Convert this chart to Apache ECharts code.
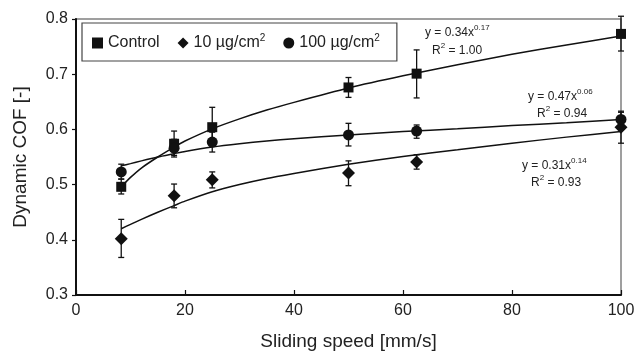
<!DOCTYPE html>
<html>
<head>
<meta charset="utf-8">
<script src="https://cdn.jsdelivr.net/npm/echarts@6/dist/echarts.min.js"></script>
<style>
  html, body { margin: 0; padding: 0; background: #fff; }
  #chart { width: 638px; height: 356px; }
</style>
</head>
<body>
<div id="chart"></div>
<script>
// sliding speeds (mm/s)
var speeds = [8.3, 18, 25, 50, 62.5, 100];

// mean dynamic COF + error bar ends
var controlMean = [0.496, 0.574, 0.604, 0.676, 0.701, 0.773];
var controlLow  = [0.483, 0.553, 0.570, 0.658, 0.657, 0.742];
var controlHigh = [0.510, 0.597, 0.640, 0.694, 0.744, 0.805];

var low10Mean = [0.402, 0.480, 0.509, 0.521, 0.541, 0.604];
var low10Low  = [0.368, 0.458, 0.494, 0.498, 0.528, 0.575];
var low10High = [0.437, 0.501, 0.523, 0.543, 0.554, 0.633];

var high100Mean = [0.523, 0.566, 0.577, 0.590, 0.597, 0.618];
var high100Low  = [0.510, 0.550, 0.559, 0.570, 0.584, 0.605];
var high100High = [0.537, 0.582, 0.595, 0.611, 0.608, 0.631];

// power-law trend curves
var trendX       = [8.3, 10, 12, 15, 18, 20, 25, 30, 35, 40, 50, 60, 70, 80, 90, 100];
var trendControl = [0.496, 0.513, 0.530, 0.550, 0.568, 0.579, 0.601, 0.619, 0.635, 0.649, 0.675, 0.697, 0.717, 0.736, 0.753, 0.769];
var trend100     = [0.534, 0.538, 0.543, 0.550, 0.556, 0.560, 0.568, 0.574, 0.579, 0.583, 0.590, 0.596, 0.601, 0.607, 0.612, 0.618];
var trend10      = [0.420, 0.428, 0.437, 0.450, 0.462, 0.470, 0.487, 0.500, 0.511, 0.520, 0.537, 0.551, 0.563, 0.575, 0.586, 0.596];

var xTicks = [0, 20, 40, 60, 80, 100];
var yTicks = [0.3, 0.4, 0.5, 0.6, 0.7, 0.8];

var FONT = 'Liberation Sans, Arial, sans-serif';
var INK = '#111';

function pairs(xs, ys) {
  return xs.map(function (x, i) { return [x, ys[i]]; });
}
function errData(xs, lo, hi) {
  return xs.map(function (x, i) { return [x, lo[i], hi[i]]; });
}

// error bar with caps
function renderErr(params, api) {
  var top = api.coord([api.value(0), api.value(2)]);
  var bot = api.coord([api.value(0), api.value(1)]);
  var cap = 3;
  var st = { stroke: INK, lineWidth: 1.3 };
  return {
    type: 'group',
    children: [
      { type: 'line', shape: { x1: top[0], y1: top[1], x2: bot[0], y2: bot[1] }, style: st },
      { type: 'line', shape: { x1: top[0] - cap, y1: top[1], x2: top[0] + cap, y2: top[1] }, style: st },
      { type: 'line', shape: { x1: bot[0] - cap, y1: bot[1], x2: bot[0] + cap, y2: bot[1] }, style: st }
    ]
  };
}

function errSeries(data) {
  return {
    type: 'custom',
    renderItem: renderErr,
    data: data,
    clip: false,
    silent: true,
    z: 3
  };
}

function trendSeries(ys) {
  return {
    type: 'line',
    data: pairs(trendX, ys),
    smooth: 0.2,
    showSymbol: false,
    silent: true,
    lineStyle: { color: INK, width: 1.5 },
    z: 2
  };
}

var supRich = {
  s: { fontSize: 8, fontFamily: FONT, color: '#222', verticalAlign: 'top', padding: [0, 0, 9, 0] }
};
function note(x, y, txt) {
  return {
    type: 'text',
    left: x,
    top: y,
    style: { text: txt, fontSize: 12, fontFamily: FONT, fill: '#222', rich: supRich }
  };
}

var chart = echarts.init(document.getElementById('chart'));
chart.setOption({
  animation: false,
  backgroundColor: '#fff',
  textStyle: { fontFamily: FONT },
  grid: {
    left: 76, right: 17, top: 19, bottom: 59,
    show: true,
    borderColor: '#808080',
    borderWidth: 1.5
  },
  legend: {
    left: 82,
    top: 23,
    padding: [10, 17, 10, 10],
    borderColor: '#444',
    borderWidth: 1.2,
    borderRadius: 0,
    itemWidth: 11,
    itemHeight: 11,
    itemGap: 18,
    selectedMode: false,
    data: [
      { name: 'Control', icon: 'rect' },
      { name: '10 µg/cm2', icon: 'diamond' },
      { name: '100 µg/cm2', icon: 'circle' }
    ],
    formatter: function (name) {
      return name.replace(/cm2$/, 'cm{s|2}');
    },
    textStyle: {
      fontSize: 16,
      color: '#222',
      fontFamily: FONT,
      rich: {
        s: { fontSize: 10, color: '#222', fontFamily: FONT, verticalAlign: 'top', padding: [0, 0, 10, 0] }
      }
    }
  },
  xAxis: {
    type: 'value',
    min: 0, max: 100, interval: 20,
    name: 'Sliding speed [mm/s]',
    nameLocation: 'middle',
    nameGap: 37,
    nameTextStyle: { fontSize: 19, color: '#222', fontFamily: FONT },
    axisLine: { lineStyle: { color: INK, width: 2 } },
    axisTick: { inside: true, length: 5, lineStyle: { color: INK, width: 1.2 } },
    axisLabel: { fontSize: 16, color: '#222', margin: 8, fontFamily: FONT },
    splitLine: { show: false }
  },
  yAxis: {
    type: 'value',
    min: 0.3, max: 0.8, interval: 0.1,
    name: 'Dynamic COF [-]',
    nameLocation: 'middle',
    nameGap: 46,
    nameTextStyle: { fontSize: 19, color: '#222', fontFamily: FONT },
    axisLine: { show: true, lineStyle: { color: INK, width: 2 } },
    axisTick: { show: true, length: 4, lineStyle: { color: INK, width: 1.2 } },
    axisLabel: {
      fontSize: 16, color: '#222', margin: 8, fontFamily: FONT,
      formatter: function (v) { return v.toFixed(1); }
    },
    splitLine: { show: false }
  },
  graphic: [
    note(425, 24, 'y = 0.34x{s|0.17}'),
    note(432, 42, 'R{s|2} = 1.00'),
    note(528, 88, 'y = 0.47x{s|0.06}'),
    note(537, 105, 'R{s|2} = 0.94'),
    note(522, 157, 'y = 0.31x{s|0.14}'),
    note(531, 174, 'R{s|2} = 0.93')
  ],
  series: [
    trendSeries(trendControl),
    trendSeries(trend100),
    trendSeries(trend10),
    errSeries(errData(speeds, controlLow, controlHigh)),
    errSeries(errData(speeds, low10Low, low10High)),
    errSeries(errData(speeds, high100Low, high100High)),
    {
      name: 'Control', type: 'scatter', symbol: 'rect', symbolSize: 10,
      itemStyle: { color: INK, opacity: 1 }, data: pairs(speeds, controlMean), z: 4
    },
    {
      name: '10 µg/cm2', type: 'scatter', symbol: 'diamond', symbolSize: 13,
      itemStyle: { color: INK, opacity: 1 }, data: pairs(speeds, low10Mean), z: 4
    },
    {
      name: '100 µg/cm2', type: 'scatter', symbol: 'circle', symbolSize: 11,
      itemStyle: { color: INK, opacity: 1 }, data: pairs(speeds, high100Mean), z: 4
    }
  ]
});
</script>
</body>
</html>
